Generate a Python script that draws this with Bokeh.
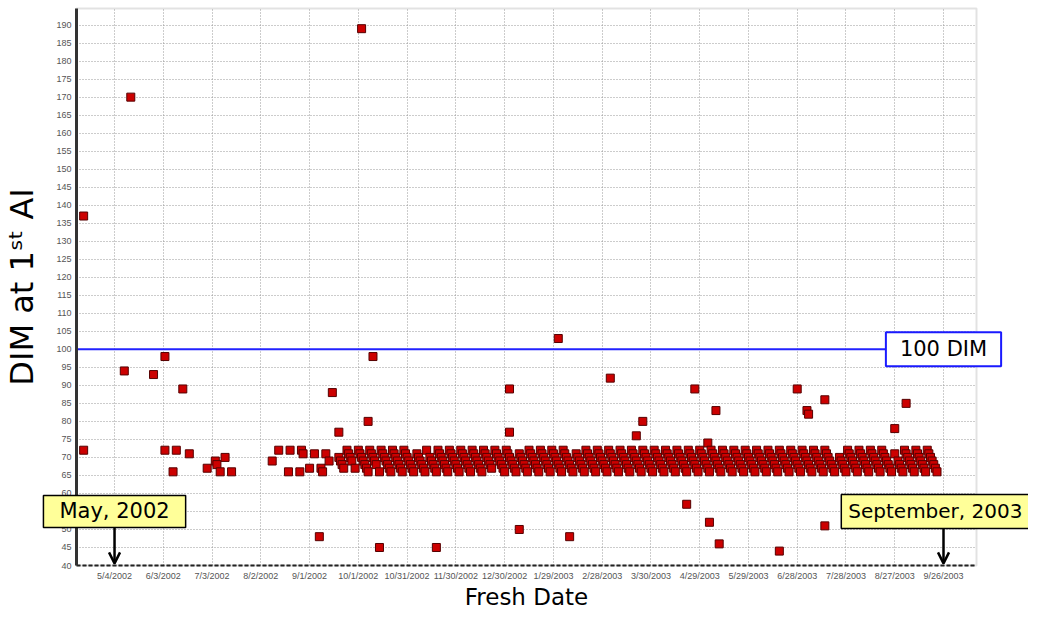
import pandas as pd
from bokeh.plotting import figure
from bokeh.models import Range1d, FixedTicker, Label, Arrow, OpenHead, ColumnDataSource, BoxAnnotation
from bokeh.embed import file_html
from bokeh.resources import INLINE

BASE = pd.Timestamp("2002-05-04")

def days(s):
    return (pd.Timestamp(s) - BASE).days

# ---------------- data ----------------
tick_dates = ["2002-05-04", "2002-06-03", "2002-07-03", "2002-08-02", "2002-09-01",
              "2002-10-01", "2002-10-31", "2002-11-30", "2002-12-30", "2003-01-29",
              "2003-02-28", "2003-03-30", "2003-04-29", "2003-05-29", "2003-06-28",
              "2003-07-28", "2003-08-27", "2003-09-26"]
tick_labels = ["5/4/2002", "6/3/2002", "7/3/2002", "8/2/2002", "9/1/2002",
               "10/1/2002", "10/31/2002", "11/30/2002", "12/30/2002", "1/29/2003",
               "2/28/2003", "3/30/2003", "4/29/2003", "5/29/2003", "6/28/2003",
               "7/28/2003", "8/27/2003", "9/26/2003"]
y_ticks = [40, 45, 50, 55, 60, 65, 70, 75, 80, 85, 90, 95, 100, 105, 110, 115, 120,
           125, 130, 135, 140, 145, 150, 155, 160, 165, 170, 175, 180, 185, 190]

# individual cows (fresh date, DIM at 1st AI)
single_fresh = ["2002-04-15", "2002-04-15", "2002-05-10", "2002-05-14", "2002-05-28",
                "2002-06-04", "2002-06-04", "2002-06-09", "2002-06-11", "2002-06-15",
                "2002-06-19", "2002-06-30", "2002-07-05", "2002-07-06", "2002-07-08",
                "2002-07-11", "2002-07-15", "2002-08-09", "2002-08-13", "2002-08-20",
                "2002-08-19", "2002-08-26", "2002-08-27", "2002-08-28", "2002-09-01",
                "2002-09-04", "2002-09-07", "2002-09-08", "2002-09-09", "2002-09-11",
                "2002-09-13", "2002-09-15", "2002-09-19", "2002-10-03", "2002-10-07",
                "2002-10-10", "2002-10-14", "2002-11-18", "2003-01-02", "2003-01-02",
                "2003-01-08", "2003-02-01", "2003-02-08", "2003-03-05", "2003-03-21",
                "2003-03-25", "2003-04-21", "2003-04-26", "2003-05-04", "2003-05-05",
                "2003-05-09", "2003-05-11", "2003-06-17", "2003-06-28", "2003-07-04",
                "2003-07-05", "2003-07-15", "2003-07-15", "2003-08-27", "2003-09-03"]
single_dim = [137, 72, 94, 170, 93,
              98, 72, 66, 72, 89,
              71, 67, 69, 68, 66,
              70, 66, 69, 72, 72,
              66, 66, 72, 71, 67,
              71, 48, 67, 66, 71,
              69, 88, 77, 189, 80,
              98, 45, 45, 89, 77,
              50, 103, 48, 92, 76,
              80, 57, 89, 74, 52,
              83, 46, 44, 89, 83,
              82, 86, 51, 78, 85]

# weekly synchronized breeding groups: AI date and DIMs of the cows bred that day
sync_ai_dates = ["2002-11-28", "2002-12-05", "2002-12-12", "2002-12-19", "2002-12-26",
                 "2003-01-02", "2003-01-09", "2003-01-16", "2003-01-23", "2003-01-30",
                 "2003-02-06", "2003-02-13", "2003-02-20", "2003-02-27", "2003-03-06",
                 "2003-03-13", "2003-03-20", "2003-03-27", "2003-04-03", "2003-04-10",
                 "2003-04-17", "2003-04-24", "2003-05-01", "2003-05-08", "2003-05-15",
                 "2003-05-22", "2003-05-29", "2003-06-05", "2003-06-12", "2003-06-19",
                 "2003-06-26", "2003-07-03", "2003-07-10", "2003-07-17", "2003-07-24",
                 "2003-07-31", "2003-08-07", "2003-08-14", "2003-08-21", "2003-08-28",
                 "2003-09-04", "2003-09-11", "2003-09-18", "2003-09-25", "2003-10-02",
                 "2003-10-09", "2003-10-16", "2003-10-23", "2003-10-30", "2003-11-06",
                 "2003-11-13", "2003-11-20", "2003-11-27"]
sync_dims = ["70 69 68 67", "72 71 70 69 67", "72 71 70 69 68 67 66", "72 71 70 69 68 66",
             "72 71 70 69 68 67 66", "72 71 70 69 68 67 66", "72 71 70 69 68 67 66",
             "71 70 69 68 67 66", "72 70 69 68 67 66", "72 71 70 69 68 67 66",
             "72 71 70 69 68 67 66", "72 71 70 69 68 67 66", "72 71 70 69 68 67 66",
             "72 71 70 69 68 67", "72 71 70 69 68 67 66", "72 71 70 69 68 67 66",
             "71 70 69 68 67 66", "72 71 70 69 68 67 66", "72 71 70 69 68 67 66",
             "72 71 70 69 68 67 66", "72 71 70 69 68 67 66", "71 70 69 68 67 66",
             "72 71 70 69 68 67 66", "72 71 70 69 68 67 66", "72 71 70 69 68 67 66",
             "72 71 70 69 68 67 66", "72 71 70 69 68 67 66", "72 71 70 69 68 67 66",
             "72 71 70 69 68 67 66", "72 71 70 69 68 67 66", "72 71 70 69 68 67 66",
             "72 71 70 69 68 67 66", "72 71 70 69 68 67 66", "72 71 70 69 68 67 66",
             "72 71 70 69 68 67 66", "72 71 70 69 68 67 66", "72 71 70 69 68 67 66",
             "72 71 70 69 68 67 66", "72 71 70 69 68 67 66", "72 71 70 69 68 67 66",
             "72 71 70 69 68 67 66", "72 71 70 69 68 67 66", "72 71 70 69 68 67 66",
             "72 71 70 69 68 67 66", "70 69 68 67 66", "72 71 70 69 68 67 66",
             "72 71 70 69 68 67 66", "72 71 70 69 68 67 66", "72 71 70 69 68 67 66",
             "71 69 68 67 66", "72 71 70 69 68 67 66", "72 71 70 69 68 67 66",
             "72 71 70 69 68 67 66"]

threshold_dim = 100

# ---------------- layout (pixels) ----------------
W, H = 1028, 611
PX_LEFT, PX_RIGHT, PX_TOP, PX_BOTTOM = 76, 976, 8, 565
x_lo, x_hi = -23.4, 530.3        # visible plot-area extent in days from 5/4/2002
y_lo, y_hi = 40, 194.6
sx = (PX_RIGHT - PX_LEFT) / (x_hi - x_lo)
sy = (PX_BOTTOM - PX_TOP) / (y_hi - y_lo)

# ---------------- build ----------------
xs = [days(d) for d in single_fresh]
ys = list(single_dim)
for ai, dims in zip(sync_ai_dates, sync_dims):
    for d in dims.split():
        dim = int(d)
        xs.append(days(ai) - dim)
        ys.append(dim)
src = ColumnDataSource(dict(x=xs, y=ys))

tick_pos = [days(d) for d in tick_dates]

p = figure(width=W, height=H, output_backend="svg", toolbar_location=None,
           x_range=Range1d(x_lo - PX_LEFT / sx, x_hi + (W - PX_RIGHT) / sx),
           y_range=Range1d(y_lo - (H - PX_BOTTOM) / sy, y_hi + PX_TOP / sy),
           min_border_left=0, min_border_right=0, min_border_top=0, min_border_bottom=0,
           background_fill_color="white", border_fill_color="white")
p.outline_line_color = None

# plot-area border (top/right grey)
p.add_layout(BoxAnnotation(left=x_lo, right=x_hi, bottom=y_lo, top=y_hi,
                           fill_alpha=0, line_color="#a0a0a0", line_width=2, level="underlay"))

# axes placed at the plot-area edges
p.xaxis.fixed_location = y_lo
p.xaxis.bounds = (x_lo, x_hi)
p.yaxis.fixed_location = x_lo
p.yaxis.bounds = (y_lo, y_hi)

p.xaxis.ticker = FixedTicker(ticks=tick_pos)
p.xaxis.major_label_overrides = {pos: lab for pos, lab in zip(tick_pos, tick_labels)}
p.yaxis.ticker = FixedTicker(ticks=y_ticks)
for ax in (p.xaxis[0], p.yaxis[0]):
    ax.major_tick_out = 0
    ax.major_tick_in = 0
    ax.minor_tick_out = 0
    ax.minor_tick_in = 0
    ax.major_label_text_font = "Liberation Sans"
    ax.major_label_text_font_size = "9px"
    ax.major_label_text_color = "#555555"
    ax.axis_label_text_font = "DejaVu Sans"
    ax.axis_label_text_font_style = "normal"
    ax.axis_label_text_color = "black"

p.xaxis.axis_line_color = "#222222"
p.xaxis.axis_line_width = 2
p.xaxis.axis_line_dash = "4 2"
p.xaxis.major_label_standoff = 5
p.xaxis.axis_label = "Fresh Date"
p.xaxis.axis_label_text_font_size = "23px"
p.xaxis.axis_label_standoff = 0

p.yaxis.axis_line_color = "#333333"
p.yaxis.axis_line_width = 3
p.yaxis.major_label_standoff = 5
p.yaxis.axis_label = "DIM at 1\u02e2\u1d57 AI"
p.yaxis.axis_label_text_font_size = "32px"
p.yaxis.axis_label_standoff = 12

# grid
p.xgrid.ticker = FixedTicker(ticks=tick_pos)
p.ygrid.ticker = FixedTicker(ticks=y_ticks)
for g in (p.xgrid[0], p.ygrid[0]):
    g.grid_line_color = "#999999"
    g.grid_line_dash = "1 2"
    g.grid_line_width = 1
p.xgrid.cross_bounds = (y_lo, y_hi)
p.ygrid.cross_bounds = (x_lo, x_hi)

# 100 DIM reference line across the plot area
p.segment(x0=x_lo, y0=threshold_dim, x1=x_hi, y1=threshold_dim, line_color="#2222ff", line_width=2)

# points
p.scatter("x", "y", source=src, marker="square", size=8,
          fill_color="#cc0000", line_color="#550000", line_width=1)

# arrows to the first and last date ticks
may_x = days("2002-05-04")
sep_x = days("2003-09-26")
for ax_x in (may_x, sep_x):
    p.add_layout(Arrow(end=OpenHead(size=11, line_width=2.5, line_color="black"),
                       x_start=ax_x, y_start=50.5, x_end=ax_x, y_end=40.6,
                       line_color="black", line_width=2.5))

# callout boxes
p.add_layout(Label(x=may_x, y=55, text="May, 2002", text_align="center", text_baseline="middle",
                   text_font="DejaVu Sans", text_font_size="21px", text_color="black",
                   background_fill_color="#ffff99", border_line_color="black", border_line_width=1.5,
                   padding=dict(x=16, y=4)))
p.add_layout(Label(x=sep_x - 5, y=55, text="September, 2003", text_align="center", text_baseline="middle",
                   text_font="DejaVu Sans", text_font_size="20px", text_color="black",
                   background_fill_color="#ffff99", border_line_color="black", border_line_width=1.5,
                   padding=dict(x=7, y=5)))
p.add_layout(Label(x=sep_x, y=threshold_dim, text="100 DIM", text_align="center", text_baseline="middle",
                   text_font="DejaVu Sans", text_font_size="21px", text_color="black",
                   background_fill_color="white", border_line_color="#1a1aff", border_line_width=2,
                   padding=dict(x=14, y=5)))

open("out.html", "w").write(file_html(p, INLINE))
